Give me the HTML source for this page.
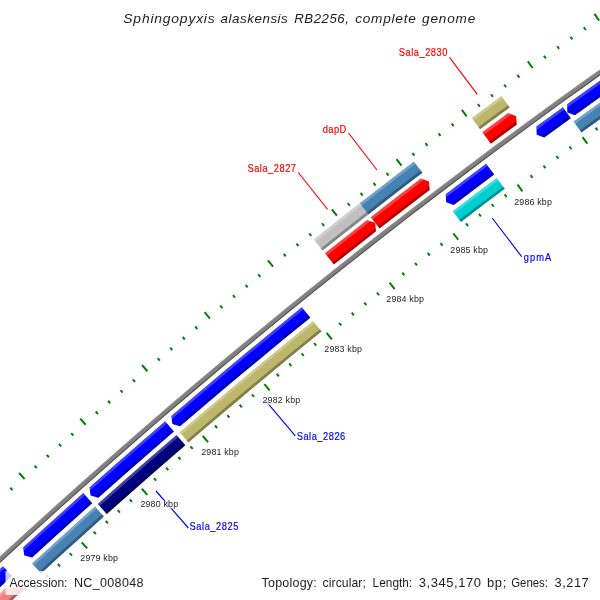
<!DOCTYPE html>
<html><head><meta charset="utf-8"><title>CGView map</title>
<style>
html,body{margin:0;padding:0;background:#fff;}
body{width:600px;height:600px;overflow:hidden;}
svg{display:block;will-change:transform;}
text{font-family:"Liberation Sans",sans-serif;white-space:pre;}
</style></head><body>
<svg width="600" height="600" viewBox="0 0 600 600">
<defs>
<clipPath id="cornerclip"><rect x="0" y="0" width="5.3" height="600"/><rect x="0" y="587.5" width="600" height="20"/></clipPath>
<clipPath id="c1"><path d="M83.28,493.11 L63.13,511.18 L43.06,529.34 L23.07,547.6 L24.31,555.59 L32.16,557.51 L52.1,539.3 L72.13,521.17 L92.23,503.14Z"/></clipPath>
<clipPath id="c2"><path d="M165.15,421.34 L139.8,443.29 L114.57,465.37 L89.47,487.59 L90.59,495.6 L98.41,497.64 L123.46,475.46 L148.63,453.43 L173.92,431.54Z"/></clipPath>
<clipPath id="c3"><path d="M301.84,307.2 L275.5,328.66 L249.28,350.28 L223.18,372.04 L197.21,393.95 L171.36,416.01 L172.33,424.04 L180.12,426.21 L205.91,404.21 L231.83,382.34 L257.86,360.63 L284.03,339.07 L310.31,317.65Z"/></clipPath>
<clipPath id="c4"><path d="M486.11,163.77 L465.86,178.97 L445.68,194.26 L446.18,202.33 L453.82,204.96 L473.96,189.71 L494.16,174.54Z"/></clipPath>
<clipPath id="c5"><path d="M562.96,107.26 L536.39,126.59 L536.73,134.67 L544.33,137.45 L570.84,118.16Z"/></clipPath>
<clipPath id="c6"><path d="M721.63,-3.6 L690.45,17.59 L659.39,38.98 L628.48,60.56 L597.7,82.34 L567.05,104.31 L567.35,112.39 L574.92,115.21 L605.5,93.29 L636.21,71.56 L667.06,50.03 L698.04,28.69 L729.16,7.54Z"/></clipPath>
<clipPath id="c7"><path d="M324.98,253.35 L346.06,236.65 L367.21,220.04 L375.17,222.9 L376.01,231.31 L354.91,247.88 L333.88,264.54Z"/></clipPath>
<clipPath id="c8"><path d="M370.77,217.26 L395.82,197.82 L420.97,178.51 L428.89,181.46 L429.65,189.88 L404.55,209.14 L379.56,228.54Z"/></clipPath>
<clipPath id="c9"><path d="M482.36,132.26 L508.26,113.12 L516.13,116.21 L516.73,124.64 L490.89,143.74Z"/></clipPath>
</defs>
<rect width="600" height="600" fill="#fff"/>
<path d="M-91.26,642.41 L-63.43,615.76 L-35.43,589.28 L-7.26,562.99 L21.07,536.88 L49.58,510.95 L78.25,485.2 L107.08,459.64 L136.08,434.26 L165.24,409.07 L194.56,384.07 L224.04,359.26 L253.68,334.64 L283.47,310.2 L313.42,285.96 L343.53,261.91 L373.79,238.06 L404.21,214.4 L434.77,190.94 L465.49,167.67 L496.35,144.6 L527.36,121.73 L558.52,99.06 L589.82,76.59 L621.27,54.32 L652.86,32.25 L684.59,10.39 L716.46,-11.27 L719.26,-7.13 L687.41,14.51 L655.71,36.36 L624.15,58.41 L592.73,80.66 L561.45,103.11 L530.32,125.76 L499.33,148.62 L468.5,171.67 L437.81,194.91 L407.27,218.36 L376.88,242 L346.64,265.83 L316.56,289.86 L286.63,314.08 L256.86,338.49 L227.24,363.09 L197.79,387.89 L168.49,412.87 L139.36,438.04 L110.38,463.39 L81.57,488.93 L52.93,514.66 L24.45,540.57 L-3.86,566.66 L-32.01,592.93 L-59.98,619.38 L-87.79,646.01Z" fill="#808080"/>
<path d="M-91.26,642.41 L-63.43,615.76 L-35.43,589.28 L-7.26,562.99 L21.07,536.88 L49.58,510.95 L78.25,485.2 L107.08,459.64 L136.08,434.26 L165.24,409.07 L194.56,384.07 L224.04,359.26 L253.68,334.64 L283.47,310.2 L313.42,285.96 L343.53,261.91 L373.79,238.06 L404.21,214.4 L434.77,190.94 L465.49,167.67 L496.35,144.6 L527.36,121.73 L558.52,99.06 L589.82,76.59 L621.27,54.32 L652.86,32.25 L684.59,10.39 L716.46,-11.27 L717.02,-10.44 L685.15,11.21 L653.43,33.07 L621.85,55.14 L590.41,77.4 L559.11,99.87 L527.96,122.54 L496.95,145.4 L466.09,168.47 L435.38,191.73 L404.82,215.19 L374.41,238.85 L344.15,262.7 L314.05,286.74 L284.1,310.98 L254.31,335.41 L224.68,360.03 L195.2,384.84 L165.89,409.83 L136.73,435.02 L107.74,460.39 L78.91,485.95 L50.25,511.69 L21.75,537.62 L-6.58,563.72 L-34.75,590.01 L-62.74,616.48 L-90.56,643.13Z" fill="#fff" fill-opacity="0.12"/>
<path d="M-88.48,645.29 L-60.67,618.66 L-32.69,592.2 L-4.54,565.92 L23.77,539.83 L52.26,513.92 L80.91,488.19 L109.72,462.64 L138.7,437.28 L167.84,412.11 L197.14,387.12 L226.6,362.33 L256.22,337.72 L286,313.3 L315.93,289.08 L346.02,265.05 L376.26,241.21 L406.65,217.57 L437.2,194.12 L467.89,170.87 L498.74,147.81 L529.73,124.96 L560.87,102.3 L592.15,79.85 L623.57,57.59 L655.14,35.54 L686.85,13.69 L718.7,-7.96 L719.26,-7.13 L687.41,14.51 L655.71,36.36 L624.15,58.41 L592.73,80.66 L561.45,103.11 L530.32,125.76 L499.33,148.62 L468.5,171.67 L437.81,194.91 L407.27,218.36 L376.88,242 L346.64,265.83 L316.56,289.86 L286.63,314.08 L256.86,338.49 L227.24,363.09 L197.79,387.89 L168.49,412.87 L139.36,438.04 L110.38,463.39 L81.57,488.93 L52.93,514.66 L24.45,540.57 L-3.86,566.66 L-32.01,592.93 L-59.98,619.38 L-87.79,646.01Z" fill="#000" fill-opacity="0.4"/>
<path d="M34.11,585.81 L36.35,588.24 M45.97,574.9 L48.2,577.33 M57.86,564.02 L60.08,566.45 M12.5,490.09 L10.28,487.65 M69.77,553.17 L71.99,555.61 M24.62,479.12 L19.12,473.03 M81.72,542.35 L87.21,548.44 M36.76,468.18 L34.56,465.73 M93.69,531.57 L95.9,534.02 M48.94,457.27 L46.74,454.81 M105.7,520.82 L107.9,523.28 M61.14,446.4 L58.95,443.94 M117.73,510.1 L119.92,512.56 M73.38,435.56 L71.19,433.09 M129.79,499.41 L131.98,501.88 M85.64,424.76 L80.23,418.6 M141.88,488.76 L147.3,494.92 M97.93,413.98 L95.76,411.5 M154,478.14 L156.17,480.62 M110.26,403.24 L108.09,400.75 M166.15,467.55 L168.31,470.04 M122.61,392.54 L120.45,390.04 M178.33,456.99 L180.48,459.49 M134.99,381.87 L132.83,379.36 M190.53,446.47 L192.68,448.97 M147.39,371.23 L142.07,364.99 M202.77,435.98 L208.09,442.21 M159.83,360.62 L157.69,358.11 M215.03,425.52 L217.16,428.04 M172.3,350.05 L170.17,347.53 M227.32,415.1 L229.45,417.62 M184.79,339.51 L182.67,336.98 M239.64,404.71 L241.76,407.24 M197.32,329.01 L195.2,326.47 M251.98,394.36 L254.1,396.89 M209.87,318.53 L204.62,312.23 M264.36,384.03 L269.6,390.34 M222.45,308.1 L220.34,305.56 M276.76,373.74 L278.86,376.29 M235.05,297.7 L232.96,295.15 M289.19,363.49 L291.28,366.04 M247.69,287.33 L245.6,284.77 M301.65,353.27 L303.74,355.82 M260.35,276.99 L258.27,274.43 M314.13,343.08 L316.21,345.64 M273.05,266.69 L267.89,260.32 M326.64,332.92 L331.8,339.3 M285.76,256.43 L283.7,253.86 M339.18,322.8 L341.25,325.37 M298.51,246.2 L296.45,243.62 M351.75,312.71 L353.81,315.29 M311.29,236 L309.23,233.42 M364.35,302.66 L366.4,305.24 M324.09,225.84 L322.04,223.25 M376.97,292.64 L379.02,295.23 M336.92,215.71 L331.85,209.27 M389.62,282.66 L394.69,289.1 M349.78,205.62 L347.74,203.02 M402.29,272.71 L404.33,275.31 M362.66,195.56 L360.63,192.96 M415,262.79 L417.02,265.4 M375.57,185.54 L373.55,182.93 M427.73,252.91 L429.75,255.52 M388.51,175.55 L386.5,172.94 M440.48,243.06 L442.49,245.68 M401.48,165.6 L396.49,159.09 M453.26,233.25 L458.25,239.76 M414.47,155.68 L412.47,153.05 M466.07,223.47 L468.07,226.1 M427.49,145.8 L425.5,143.17 M478.91,213.73 L480.9,216.36 M440.53,135.95 L438.55,133.31 M491.77,204.02 L493.76,206.66 M453.61,126.14 L451.63,123.5 M504.66,194.35 L506.64,196.99 M466.71,116.36 L461.81,109.78 M517.57,184.71 L522.47,191.29 M479.83,106.62 L477.87,103.97 M530.51,175.11 L532.48,177.76 M492.98,96.92 L491.03,94.26 M543.48,165.54 L545.44,168.2 M506.16,87.25 L504.21,84.58 M556.47,156 L558.42,158.67 M519.37,77.61 L517.42,74.94 M569.49,146.51 L571.43,149.17 M532.6,68.01 L527.79,61.37 M582.53,137.04 L587.34,143.69 M545.85,58.45 L543.92,55.77 M595.6,127.61 L597.53,130.29 M559.13,48.92 L557.21,46.24 M608.7,118.22 L610.62,120.91 M572.44,39.43 L570.53,36.74 M621.82,108.87 L623.73,111.55 M585.77,29.98 L583.87,27.28 M634.96,99.54 L636.87,102.24 M599.13,20.56 L594.42,13.85 M648.13,90.26 L652.85,96.97 M612.52,11.18 L610.63,8.47 M661.33,81.01 L663.22,83.71 M625.93,1.83 L624.04,-0.88 M674.55,71.79 L676.43,74.5 M639.36,-7.48 L637.49,-10.19 M687.79,62.61 L689.67,65.33 M652.82,-16.75 L650.95,-19.47 M701.06,53.47 L702.93,56.19 M666.31,-25.99 L661.68,-32.76 M714.36,44.36 L718.98,51.14 M679.82,-35.19 L677.96,-37.92 M727.68,35.29 L729.53,38.02 M693.35,-44.36 L691.5,-47.09 M741.02,26.26 L742.87,28.99 M706.91,-53.48 L705.07,-56.22 M754.39,17.26 L756.23,20 M720.49,-62.57 L718.66,-65.32 M767.78,8.3 L769.62,11.04 M734.1,-71.63 L729.57,-78.46 M781.2,-0.63 L785.73,6.2" stroke="#008000" stroke-width="2" fill="none" stroke-linecap="butt"/>
<path d="M-41.48,607.7 L-19.36,586.9 L2.87,566.21 L12.01,576.08 L-10.17,596.72 L-32.25,617.47Z" fill="#0000ff"/>
<path d="M-41.48,607.7 L-19.36,586.9 L2.87,566.21 L4.7,568.19 L-17.52,588.86 L-39.63,609.65Z" fill="#fff" fill-opacity="0.25"/><path d="M-34.09,615.52 L-12.01,594.76 L10.18,574.11 L12.01,576.08 L-10.17,596.72 L-32.25,617.47Z" fill="#000" fill-opacity="0.3"/>
<path d="M83.28,493.11 L63.13,511.18 L43.06,529.34 L23.07,547.6 L24.31,555.59 L32.16,557.51 L52.1,539.3 L72.13,521.17 L92.23,503.14Z" fill="#0000ff"/>
<g clip-path="url(#c1)"><path d="M19.02,551.31 L40.59,531.58 L62.26,511.96 L84.02,492.44 L85.81,494.45 L64.06,513.96 L42.4,533.57 L20.84,553.29Z" fill="#fff" fill-opacity="0.25"/><path d="M26.3,559.23 L47.84,539.54 L69.46,519.95 L91.19,500.47 L92.98,502.48 L71.26,521.95 L49.65,541.53 L28.12,561.22Z" fill="#000" fill-opacity="0.3"/></g>
<path d="M165.15,421.34 L139.8,443.29 L114.57,465.37 L89.47,487.59 L90.59,495.6 L98.41,497.64 L123.46,475.46 L148.63,453.43 L173.92,431.54Z" fill="#0000ff"/>
<g clip-path="url(#c2)"><path d="M85.36,491.25 L112.07,467.57 L138.92,444.05 L165.91,420.69 L167.66,422.73 L140.69,446.08 L113.85,469.59 L87.16,493.25Z" fill="#fff" fill-opacity="0.25"/><path d="M92.53,499.28 L119.19,475.64 L145.99,452.17 L172.92,428.85 L174.68,430.89 L147.75,454.19 L120.96,477.66 L94.32,501.28Z" fill="#000" fill-opacity="0.3"/></g>
<path d="M301.84,307.2 L275.5,328.66 L249.28,350.28 L223.18,372.04 L197.21,393.95 L171.36,416.01 L172.33,424.04 L180.12,426.21 L205.91,404.21 L231.83,382.34 L257.86,360.63 L284.03,339.07 L310.31,317.65Z" fill="#0000ff"/>
<g clip-path="url(#c3)"><path d="M167.19,419.59 L194.01,396.66 L220.96,373.9 L248.05,351.3 L275.27,328.85 L302.62,306.57 L304.31,308.66 L276.97,330.93 L249.77,353.37 L222.69,375.96 L195.75,398.71 L168.95,421.63Z" fill="#fff" fill-opacity="0.25"/><path d="M174.21,427.74 L200.98,404.86 L227.88,382.14 L254.92,359.58 L282.09,337.17 L309.39,314.93 L311.08,317.02 L283.79,339.25 L256.64,361.65 L229.61,384.2 L202.72,406.91 L175.96,429.78Z" fill="#000" fill-opacity="0.3"/></g>
<path d="M486.11,163.77 L465.86,178.97 L445.68,194.26 L446.18,202.33 L453.82,204.96 L473.96,189.71 L494.16,174.54Z" fill="#0000ff"/>
<g clip-path="url(#c4)"><path d="M441.31,197.59 L464.07,180.32 L486.91,163.17 L488.52,165.32 L465.69,182.47 L442.94,199.73Z" fill="#fff" fill-opacity="0.25"/><path d="M447.83,206.14 L470.55,188.91 L493.35,171.79 L494.96,173.94 L472.17,191.06 L449.46,208.28Z" fill="#000" fill-opacity="0.3"/></g>
<path d="M562.96,107.26 L536.39,126.59 L536.73,134.67 L544.33,137.45 L570.84,118.16Z" fill="#0000ff"/>
<g clip-path="url(#c5)"><path d="M531.95,129.83 L563.77,106.68 L565.35,108.86 L533.54,132Z" fill="#fff" fill-opacity="0.25"/><path d="M538.31,138.51 L570.08,115.4 L571.65,117.58 L539.9,140.68Z" fill="#000" fill-opacity="0.3"/></g>
<path d="M721.63,-3.6 L690.45,17.59 L659.39,38.98 L628.48,60.56 L597.7,82.34 L567.05,104.31 L567.35,112.39 L574.92,115.21 L605.5,93.29 L636.21,71.56 L667.06,50.03 L698.04,28.69 L729.16,7.54Z" fill="#0000ff"/>
<g clip-path="url(#c6)"><path d="M562.6,107.53 L594.28,84.77 L626.11,62.23 L658.08,39.89 L690.2,17.76 L722.46,-4.16 L723.97,-1.93 L691.72,19.98 L659.61,42.1 L627.65,64.43 L595.84,86.96 L564.18,109.71Z" fill="#fff" fill-opacity="0.25"/><path d="M568.9,116.24 L600.53,93.53 L632.3,71.03 L664.21,48.73 L696.28,26.64 L728.48,4.76 L729.98,6.99 L697.79,28.86 L665.75,50.94 L633.85,73.23 L602.09,95.72 L570.48,118.42Z" fill="#000" fill-opacity="0.3"/></g>
<g clip-path="url(#cornerclip)"><path d="M-29.29,620.6 L-7.23,599.86 L14.93,579.24 L24.1,589.14 L1.99,609.72 L-20.02,630.41Z" fill="#f08080"/>
<path d="M-29.29,620.6 L-7.23,599.86 L14.93,579.24 L16.76,581.22 L-5.39,601.83 L-27.44,622.56Z" fill="#fff" fill-opacity="0.25"/><path d="M-21.87,628.45 L0.14,607.75 L22.27,587.16 L24.1,589.14 L1.99,609.72 L-20.02,630.41Z" fill="#000" fill-opacity="0.3"/></g>
<path d="M32.06,563.44 L52.91,544.38 L73.85,525.41 L94.88,506.55 L103.87,516.62 L82.89,535.44 L61.99,554.36 L41.19,573.38Z" fill="#4682b4"/>
<path d="M32.06,563.44 L52.91,544.38 L73.85,525.41 L94.88,506.55 L96.67,508.56 L75.66,527.42 L54.73,546.37 L33.89,565.43Z" fill="#fff" fill-opacity="0.25"/><path d="M39.37,571.39 L60.18,552.36 L81.08,533.43 L102.07,514.61 L103.87,516.62 L82.89,535.44 L61.99,554.36 L41.19,573.38Z" fill="#000" fill-opacity="0.3"/>
<path d="M97.77,503.96 L123.88,480.82 L150.12,457.83 L176.5,434.99 L185.31,445.23 L158.99,468.01 L132.81,490.95 L106.76,514.04Z" fill="#000080"/>
<path d="M97.77,503.96 L123.88,480.82 L150.12,457.83 L176.5,434.99 L178.26,437.04 L151.9,459.87 L125.67,482.85 L99.57,505.98Z" fill="#fff" fill-opacity="0.25"/><path d="M104.96,512.02 L131.02,488.92 L157.22,465.97 L183.55,443.18 L185.31,445.23 L158.99,468.01 L132.81,490.95 L106.76,514.04Z" fill="#000" fill-opacity="0.3"/>
<path d="M179.6,432.33 L206.04,409.74 L232.61,387.3 L259.31,365.02 L286.13,342.9 L313.09,320.93 L321.59,331.42 L294.69,353.34 L267.93,375.41 L241.29,397.64 L214.78,420.03 L188.4,442.57Z" fill="#bdb76b"/>
<path d="M179.6,432.33 L206.04,409.74 L232.61,387.3 L259.31,365.02 L286.13,342.9 L313.09,320.93 L314.79,323.02 L287.85,344.98 L261.03,367.1 L234.34,389.37 L207.78,411.8 L181.36,434.38Z" fill="#fff" fill-opacity="0.25"/><path d="M186.64,440.52 L213.03,417.97 L239.55,395.58 L266.2,373.33 L292.98,351.25 L319.89,329.32 L321.59,331.42 L294.69,353.34 L267.93,375.41 L241.29,397.64 L214.78,420.03 L188.4,442.57Z" fill="#000" fill-opacity="0.3"/>
<path d="M452.7,211.22 L474.64,194.58 L496.66,178.04 L504.74,188.85 L482.78,205.36 L460.89,221.96Z" fill="#00ced1"/>
<path d="M452.7,211.22 L474.64,194.58 L496.66,178.04 L498.28,180.2 L476.27,196.74 L454.34,213.37Z" fill="#fff" fill-opacity="0.25"/><path d="M459.25,219.81 L481.15,203.2 L503.13,186.69 L504.74,188.85 L482.78,205.36 L460.89,221.96Z" fill="#000" fill-opacity="0.3"/>
<path d="M573.52,121.53 L604.85,99.04 L636.31,76.75 L667.92,54.66 L699.67,32.78 L731.56,11.11 L739.12,22.3 L707.3,43.92 L675.62,65.76 L644.08,87.79 L612.68,110.03 L581.43,132.47Z" fill="#4682b4"/>
<path d="M573.52,121.53 L604.85,99.04 L636.31,76.75 L667.92,54.66 L699.67,32.78 L731.56,11.11 L733.07,13.35 L701.2,35.01 L669.46,56.88 L637.87,78.96 L606.41,101.24 L575.11,123.72Z" fill="#fff" fill-opacity="0.25"/><path d="M579.85,130.28 L611.12,107.83 L642.53,85.58 L674.08,63.54 L705.77,41.7 L737.61,20.06 L739.12,22.3 L707.3,43.92 L675.62,65.76 L644.08,87.79 L612.68,110.03 L581.43,132.47Z" fill="#000" fill-opacity="0.3"/>
<path d="M324.98,253.35 L346.06,236.65 L367.21,220.04 L375.17,222.9 L376.01,231.31 L354.91,247.88 L333.88,264.54Z" fill="#ff0000"/>
<g clip-path="url(#c7)"><path d="M324.19,253.97 L347.83,235.25 L371.56,216.65 L373.32,218.9 L349.6,237.5 L325.98,256.21Z" fill="#fff" fill-opacity="0.25"/><path d="M331.32,262.92 L354.91,244.23 L378.59,225.67 L380.35,227.92 L356.68,246.48 L333.1,265.16Z" fill="#000" fill-opacity="0.3"/></g>
<path d="M370.77,217.26 L395.82,197.82 L420.97,178.51 L428.89,181.46 L429.65,189.88 L404.55,209.14 L379.56,228.54Z" fill="#ff0000"/>
<g clip-path="url(#c8)"><path d="M369.98,217.88 L397.6,196.44 L425.36,175.17 L427.09,177.44 L399.35,198.71 L371.74,220.13Z" fill="#fff" fill-opacity="0.25"/><path d="M377.02,226.9 L404.59,205.5 L432.29,184.27 L434.02,186.54 L406.34,207.77 L378.77,229.15Z" fill="#000" fill-opacity="0.3"/></g>
<path d="M482.36,132.26 L508.26,113.12 L516.13,116.21 L516.73,124.64 L490.89,143.74Z" fill="#ff0000"/>
<g clip-path="url(#c9)"><path d="M481.55,132.86 L512.7,109.85 L514.4,112.15 L483.26,135.16Z" fill="#fff" fill-opacity="0.25"/><path d="M488.38,142.04 L519.47,119.07 L521.16,121.38 L490.09,144.34Z" fill="#000" fill-opacity="0.3"/></g>
<path d="M313.82,239.48 L336.69,221.36 L359.66,203.35 L368.33,214.47 L345.42,232.44 L322.6,250.52Z" fill="#c0c0c0"/>
<path d="M313.82,239.48 L336.69,221.36 L359.66,203.35 L361.39,205.58 L338.44,223.58 L315.57,241.69Z" fill="#fff" fill-opacity="0.25"/><path d="M320.84,248.31 L343.68,230.22 L366.6,212.25 L368.33,214.47 L345.42,232.44 L322.6,250.52Z" fill="#000" fill-opacity="0.3"/>
<path d="M359.66,203.35 L386.69,182.38 L413.85,161.56 L422.4,172.77 L395.3,193.54 L368.33,214.47Z" fill="#4682b4"/>
<path d="M359.66,203.35 L386.69,182.38 L413.85,161.56 L415.56,163.8 L388.42,184.61 L361.39,205.58Z" fill="#fff" fill-opacity="0.25"/><path d="M366.6,212.25 L393.58,191.31 L420.69,170.53 L422.4,172.77 L395.3,193.54 L368.33,214.47Z" fill="#000" fill-opacity="0.3"/>
<path d="M471.74,117.98 L501.36,96.09 L509.71,107.46 L480.15,129.29Z" fill="#bdb76b"/>
<path d="M471.74,117.98 L501.36,96.09 L503.03,98.37 L473.42,120.24Z" fill="#fff" fill-opacity="0.25"/><path d="M478.47,127.03 L508.04,105.19 L509.71,107.46 L480.15,129.29Z" fill="#000" fill-opacity="0.3"/>
<line x1="298.25" y1="172.5" x2="327.5" y2="209.25" stroke="#ff0000" stroke-width="1.15"/>
<line x1="348.5" y1="133" x2="377" y2="170" stroke="#ff0000" stroke-width="1.15"/>
<line x1="449.5" y1="57.3" x2="477.3" y2="94.4" stroke="#ff0000" stroke-width="1.15"/>
<line x1="492.2" y1="218" x2="521.7" y2="256.7" stroke="#0000ff" stroke-width="1.15"/>
<line x1="265.3" y1="400.3" x2="295.3" y2="435.8" stroke="#0000ff" stroke-width="1.15"/>
<line x1="156" y1="491" x2="188.4" y2="528" stroke="#0000ff" stroke-width="1.15"/>
<rect x="5.5" y="571" width="142" height="24" fill="#fff" fill-opacity="0.8"/>
<rect x="79.8" y="554.6" width="38.7" height="8" fill="#fff" fill-opacity="0.75"/>
<rect x="139.9" y="500.4" width="38.7" height="8" fill="#fff" fill-opacity="0.75"/>
<rect x="200.7" y="448.5" width="38.7" height="8" fill="#fff" fill-opacity="0.75"/>
<rect x="262" y="396.6" width="38.7" height="8" fill="#fff" fill-opacity="0.75"/>
<rect x="323.8" y="345.5" width="38.7" height="8" fill="#fff" fill-opacity="0.75"/>
<rect x="385.8" y="295.5" width="38.7" height="8" fill="#fff" fill-opacity="0.75"/>
<rect x="449.8" y="246.4" width="38.7" height="8" fill="#fff" fill-opacity="0.75"/>
<rect x="513.7" y="198.5" width="38.7" height="8" fill="#fff" fill-opacity="0.75"/>
<text id="t1" transform="translate(123.3,22.6) scale(1.1201,1)" style="font-size:12.4px;fill:#1c1c1c;font-style:italic;" textLength="81.6" lengthAdjust="spacing">Sphingopyxis</text>
<text id="t2" transform="translate(220.6,22.6) scale(1.0807,1)" style="font-size:12.4px;fill:#1c1c1c;font-style:italic;" textLength="62.18" lengthAdjust="spacing">alaskensis</text>
<text id="t3" transform="translate(294.3,22.6) scale(1.066,1)" style="font-size:12.4px;fill:#1c1c1c;font-style:italic;" textLength="51.22" lengthAdjust="spacing">RB2256,</text>
<text id="t4" transform="translate(355.2,22.6) scale(1.1026,1)" style="font-size:12.4px;fill:#1c1c1c;font-style:italic;" textLength="54.96" lengthAdjust="spacing">complete</text>
<text id="t5" transform="translate(422.1,22.6) scale(1.094,1)" style="font-size:12.4px;fill:#1c1c1c;font-style:italic;" textLength="48.63" lengthAdjust="spacing">genome</text>
<text id="l2830" transform="translate(398.75,55.6) scale(0.93,1)" style="font-size:10px;fill:#ff0000;stroke:#ff0000;stroke-width:0.18px;" textLength="52.37" lengthAdjust="spacing">Sala_2830</text>
<text id="ldapD" transform="translate(322.75,132.5) scale(0.93,1)" style="font-size:10px;fill:#ff0000;stroke:#ff0000;stroke-width:0.18px;" textLength="25.27" lengthAdjust="spacing">dapD</text>
<text id="l2827" transform="translate(247.5,171.7) scale(0.93,1)" style="font-size:10px;fill:#ff0000;stroke:#ff0000;stroke-width:0.18px;" textLength="52.15" lengthAdjust="spacing">Sala_2827</text>
<text id="lgpmA" transform="translate(523.7,260.5) scale(0.93,1)" style="font-size:10px;fill:#0000ff;stroke:#0000ff;stroke-width:0.18px;" textLength="29.68" lengthAdjust="spacing">gpmA</text>
<text id="l2826" transform="translate(296.7,439.5) scale(0.93,1)" style="font-size:10px;fill:#0000ff;stroke:#0000ff;stroke-width:0.18px;" textLength="52.26" lengthAdjust="spacing">Sala_2826</text>
<text id="l2825" transform="translate(189.6,530) scale(0.93,1)" style="font-size:10px;fill:#0000ff;stroke:#0000ff;stroke-width:0.18px;" textLength="52.47" lengthAdjust="spacing">Sala_2825</text>
<text id="k2979" transform="translate(80.3,560.8) scale(1.0328,1)" style="font-size:8.6px;fill:#1c1c1c;" textLength="36.5" lengthAdjust="spacing">2979 kbp</text>
<text id="k2980" transform="translate(140.4,506.6) scale(1.0328,1)" style="font-size:8.6px;fill:#1c1c1c;" textLength="36.5" lengthAdjust="spacing">2980 kbp</text>
<text id="k2981" transform="translate(201.2,454.7) scale(1.0328,1)" style="font-size:8.6px;fill:#1c1c1c;" textLength="36.5" lengthAdjust="spacing">2981 kbp</text>
<text id="k2982" transform="translate(262.5,402.8) scale(1.0328,1)" style="font-size:8.6px;fill:#1c1c1c;" textLength="36.5" lengthAdjust="spacing">2982 kbp</text>
<text id="k2983" transform="translate(324.3,351.7) scale(1.0328,1)" style="font-size:8.6px;fill:#1c1c1c;" textLength="36.5" lengthAdjust="spacing">2983 kbp</text>
<text id="k2984" transform="translate(386.3,301.7) scale(1.0328,1)" style="font-size:8.6px;fill:#1c1c1c;" textLength="36.5" lengthAdjust="spacing">2984 kbp</text>
<text id="k2985" transform="translate(450.3,252.6) scale(1.0328,1)" style="font-size:8.6px;fill:#1c1c1c;" textLength="36.5" lengthAdjust="spacing">2985 kbp</text>
<text id="k2986" transform="translate(514.2,204.7) scale(1.0328,1)" style="font-size:8.6px;fill:#1c1c1c;" textLength="36.5" lengthAdjust="spacing">2986 kbp</text>
<text id="a1" transform="translate(9.6,586.5) scale(0.9978,1)" style="font-size:12px;fill:#1c1c1c;">Accession:</text>
<text id="a2" transform="translate(73.9,586.5) scale(1.0432,1)" style="font-size:12px;fill:#1c1c1c;" textLength="66.72" lengthAdjust="spacing">NC_008048</text>
<text id="p1" transform="translate(261.5,586.8) scale(1.0381,1)" style="font-size:12px;fill:#1c1c1c;" textLength="53.27" lengthAdjust="spacing">Topology:</text>
<text id="p2" transform="translate(322.6,586.8) scale(1.0152,1)" style="font-size:12px;fill:#1c1c1c;" textLength="42.65" lengthAdjust="spacing">circular;</text>
<text id="p3" transform="translate(372.6,586.8) scale(0.9888,1)" style="font-size:12px;fill:#1c1c1c;">Length:</text>
<text id="p4" transform="translate(418.7,586.8) scale(1.0825,1)" style="font-size:12px;fill:#1c1c1c;" textLength="57.46" lengthAdjust="spacing">3,345,170</text>
<text id="p5" transform="translate(486.9,586.8) scale(1.0842,1)" style="font-size:12px;fill:#1c1c1c;" textLength="17.99" lengthAdjust="spacing">bp;</text>
<text id="p6" transform="translate(511.2,586.8) scale(0.9509,1)" style="font-size:12px;fill:#1c1c1c;">Genes:</text>
<text id="p7" transform="translate(554.5,586.8) scale(1.0694,1)" style="font-size:12px;fill:#1c1c1c;" textLength="31.98" lengthAdjust="spacing">3,217</text>
</svg>
</body></html>
